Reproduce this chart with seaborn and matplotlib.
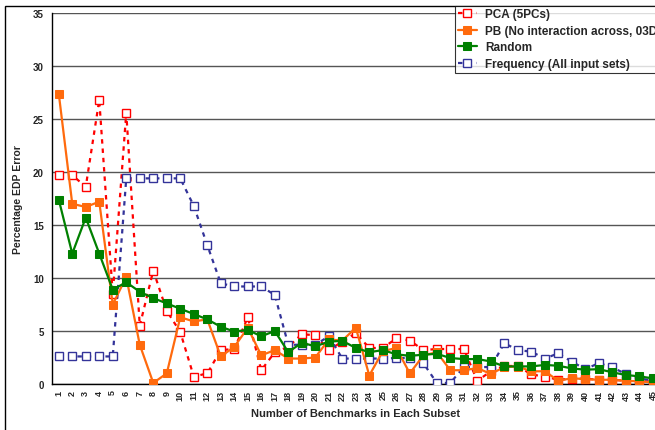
import matplotlib
matplotlib.use("Agg")
import matplotlib.pyplot as plt
import seaborn as sns
import pandas as pd
from matplotlib.patches import Rectangle

sns.set_theme(style="white")
plt.rcParams['font.family'] = ['Liberation Sans', 'DejaVu Sans']
plt.rcParams['font.weight'] = 'bold'

subset_sizes = list(range(1, 46))

pca = [19.7, 19.7, 18.6, 26.8, 8.5, 25.6, 5.5, 10.7, 6.9, 4.9,
       0.7, 1.0, 3.2, 3.3, 6.3, 1.3, 3.0, 3.5, 4.7, 4.6,
       3.2, 4.0, 4.8, 3.4, 3.4, 4.3, 4.1, 3.2, 3.3, 3.3,
       3.3, 0.3, 1.2, 1.7, 1.7, 0.9, 0.7, 0.4, 0.5, 0.5,
       0.4, 0.4, 0.3, 0.3, 0.2]
pb = [27.4, 17.0, 16.7, 17.2, 7.5, 10.1, 3.7, 0.1, 1.0, 6.3,
      5.9, 6.1, 2.6, 3.5, 5.3, 2.7, 3.2, 2.4, 2.4, 2.5,
      4.2, 4.1, 5.3, 0.8, 3.1, 3.4, 1.0, 2.7, 3.0, 1.3,
      1.3, 1.5, 0.95, 1.6, 1.65, 1.2, 1.2, 0.3, 0.55, 0.45,
      0.4, 0.4, 0.3, 0.25, 0.15]
random_sel = [17.4, 12.3, 15.7, 12.3, 8.9, 9.6, 8.7, 8.1, 7.6, 7.1,
              6.6, 6.1, 5.4, 4.95, 5.1, 4.5, 5.0, 3.0, 3.9, 3.55,
              4.0, 4.07, 3.4, 3.0, 3.2, 2.8, 2.66, 2.76, 2.85, 2.45,
              2.35, 2.35, 2.13, 1.66, 1.66, 1.66, 1.8, 1.72, 1.47, 1.35,
              1.4, 1.1, 0.85, 0.72, 0.53]
frequency = [2.6, 2.6, 2.6, 2.6, 2.6, 19.4, 19.4, 19.4, 19.4, 19.4,
             16.8, 13.1, 9.5, 9.2, 9.2, 9.2, 8.4, 3.7, 3.7, 3.7,
             4.5, 2.4, 2.4, 2.4, 2.4, 2.45, 2.45, 1.97, 0.1, 0.1,
             1.6, 1.6, 1.6, 3.85, 3.2, 3.05, 2.4, 2.9, 2.1, 1.4,
             1.97, 1.57, 0.94, 0.5, 0.35]

series_names = ["PCA (5PCs)", "PB (No interaction across, 03D)", "Random",
                "Frequency (All input sets)"]

df = pd.DataFrame({"x": subset_sizes, "pca": pca, "pb": pb,
                   "rnd": random_sel, "freq": frequency})

W, H = 655, 431
fig = plt.figure(figsize=(W / 100, H / 100), dpi=100)
left_px, top_px, bottom_px = 52, 14, 385
cat_w = 13.52
right_px = 51.2 + 45 * cat_w
ax = fig.add_axes([left_px / W, 1 - bottom_px / H,
                   (right_px - left_px) / W, (bottom_px - top_px) / H])

# outer chart border
fig.patches.append(Rectangle((5 / W, -0.1), 1.2, 1 - 7 / H + 0.1,
                             transform=fig.transFigure, fill=False,
                             edgecolor='black', linewidth=1.0, zorder=0))

red, orange, green, blue = '#FF0000', '#FF6A0D', '#008000', '#333399'

sns.lineplot(data=df, x="x", y="pca", ax=ax, color=red, linewidth=1.6,
             linestyle=(0, (2, 2.2)), marker='s', markersize=6,
             markerfacecolor='white', markeredgecolor=red, markeredgewidth=1.0,
             label=series_names[0], zorder=3)
sns.lineplot(data=df, x="x", y="pb", ax=ax, color=orange, linewidth=1.6,
             marker='s', markersize=6.2, markerfacecolor=orange,
             markeredgecolor=orange, label=series_names[1], zorder=4)
sns.lineplot(data=df, x="x", y="rnd", ax=ax, color=green, linewidth=1.6,
             marker='s', markersize=6.2, markerfacecolor=green,
             markeredgecolor=green, label=series_names[2], zorder=5)
sns.lineplot(data=df, x="x", y="freq", ax=ax, color=blue, linewidth=1.6,
             linestyle=(0, (2, 2.2)), marker='s', markersize=6,
             markerfacecolor='white', markeredgecolor=blue, markeredgewidth=1.0,
             label=series_names[3], zorder=3)

ax.set_xlim(0.5, 45.5)
ax.set_ylim(0, 35)
ax.set_yticks(range(0, 36, 5))
ax.yaxis.grid(True, color='#555555', linewidth=1.0)
ax.xaxis.grid(False)
ax.set_axisbelow(True)
for s in ['top', 'right']:
    ax.spines[s].set_visible(False)
for s in ['left', 'bottom']:
    ax.spines[s].set_color('black')
    ax.spines[s].set_linewidth(1.0)

ax.set_xticks(subset_sizes)
ax.set_xticklabels([str(v) for v in subset_sizes], rotation=90,
                   fontsize=6.5, fontweight='bold')
ax.tick_params(axis='x', length=0, pad=4)
ax.set_xticks([v + 0.5 for v in range(0, 46)], minor=True)
ax.tick_params(axis='x', which='minor', length=3, width=0.8, color='black',
               direction='out')
ax.tick_params(axis='y', length=3, width=0.8, color='black', direction='out',
               labelsize=7, pad=3)
for t in ax.get_yticklabels():
    t.set_fontweight('bold')

ax.set_xlabel("Number of Benchmarks in Each Subset", fontsize=8,
              fontweight='bold', labelpad=6)
ax.set_ylabel("Percentage EDP Error", fontsize=7.5, fontweight='bold',
              labelpad=7)

if ax.legend_:
    ax.legend_.remove()
handles, labels = ax.get_legend_handles_labels()
leg = fig.legend(handles, labels, loc='upper left',
                 bbox_to_anchor=(455 / W, 1 - 6.5 / H),
                 bbox_transform=fig.transFigure,
                 prop={'family': 'Liberation Sans', 'weight': 'bold', 'size': 8.5},
                 frameon=True, fancybox=False, edgecolor='black',
                 borderpad=0.25, labelspacing=0.38, handlelength=1.6,
                 handletextpad=0.7, borderaxespad=0)
leg.get_frame().set_linewidth(0.8)
leg.set_zorder(10)

fig.savefig("out.png", dpi=100)
